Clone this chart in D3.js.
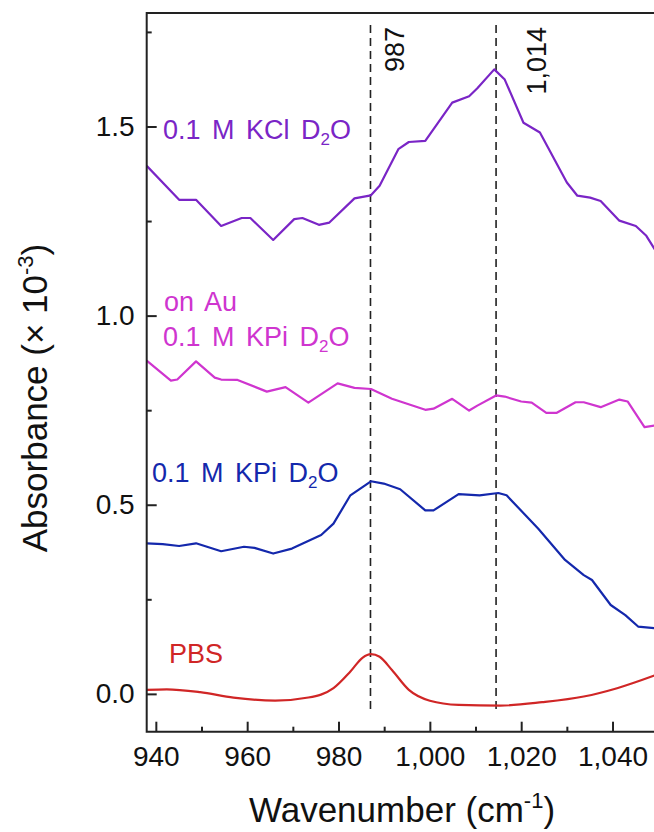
<!DOCTYPE html>
<html>
<head>
<meta charset="utf-8">
<script src="https://cdn.jsdelivr.net/npm/d3@7/dist/d3.min.js"></script>
<style>
  html, body { margin: 0; padding: 0; background: #fff; }
  svg { display: block; font-family: "Liberation Sans", Arial, sans-serif; }
</style>
</head>
<body>
<svg id="chart" width="654" height="832"></svg>
<script>
// ---- data ----
const kclWn = [938, 945.1, 948.8, 954.3, 958.8, 960.7, 965.7, 970.3, 972.1, 975.7, 978, 983.5, 987.1, 989, 993.1, 995.4, 999, 1004.9, 1008.6, 1010.4, 1014.1, 1016.4, 1020.5, 1024.1, 1030, 1032.3, 1035.1, 1037.4, 1041.5, 1045.1, 1047.4, 1049.5];
const kclAbs = [1.396, 1.306, 1.306, 1.237, 1.258, 1.258, 1.200, 1.255, 1.258, 1.240, 1.246, 1.310, 1.318, 1.343, 1.440, 1.459, 1.462, 1.563, 1.580, 1.601, 1.651, 1.624, 1.510, 1.484, 1.352, 1.317, 1.312, 1.303, 1.251, 1.237, 1.211, 1.170];

const auWn = [938, 943.3, 944.7, 948.8, 952.9, 954.3, 957.9, 964.3, 968.4, 973.4, 979.8, 983.5, 987.1, 991.7, 999, 1000.8, 1004.9, 1008.6, 1010.4, 1014.5, 1016.4, 1020, 1022.3, 1025.5, 1027.8, 1031.9, 1033.7, 1037.4, 1041.5, 1043.3, 1047, 1049.5];
const auAbs = [0.881, 0.828, 0.831, 0.879, 0.836, 0.831, 0.830, 0.799, 0.811, 0.770, 0.821, 0.809, 0.806, 0.780, 0.751, 0.754, 0.780, 0.749, 0.762, 0.789, 0.786, 0.773, 0.770, 0.743, 0.743, 0.771, 0.771, 0.758, 0.778, 0.773, 0.705, 0.710];

const kpiWn = [938, 941.5, 945.1, 948.8, 954.3, 959.3, 961.6, 965.7, 969.8, 976.2, 978.9, 982.6, 987.1, 989.9, 993.5, 999, 1000.8, 1006.3, 1010.9, 1015, 1016.8, 1023.7, 1029.6, 1033.7, 1035.5, 1039.6, 1042.8, 1045.6, 1049.5];
const kpiAbs = [0.398, 0.396, 0.391, 0.398, 0.377, 0.389, 0.386, 0.371, 0.384, 0.420, 0.450, 0.525, 0.562, 0.556, 0.541, 0.485, 0.485, 0.528, 0.525, 0.531, 0.525, 0.437, 0.354, 0.314, 0.301, 0.235, 0.208, 0.178, 0.173];

const pbsWn = [938, 942.4, 949.7, 957, 966.1, 973.4, 978.9, 982.6, 985.3, 987.1, 989, 991.7, 995.4, 1000, 1006.3, 1015.4, 1024.6, 1033.7, 1041, 1049.5];
const pbsAbs = [0.0106, 0.012, 0.0045, -0.0097, -0.018, -0.0097, 0.015, 0.059, 0.096, 0.105, 0.098, 0.063, 0.0106, -0.018, -0.029, -0.031, -0.022, -0.007, 0.015, 0.050];

const markerLines = [987, 1014.5];
const markerLabels = ["987", "1,014"];

const xMajorTicks = [940, 960, 980, 1000, 1020, 1040];
const xMinorTicks = [950, 970, 990, 1010, 1030];
const yMajorTicks = [0, 0.5, 1.0, 1.5];
const yMinorTicks = [0.25, 0.75, 1.25, 1.75];

// ---- layout ----
const svg = d3.select("#chart");
const L = 146.7, R = 658.2, T = 13, B = 731.7;
const x = d3.scaleLinear().domain([938, 1050]).range([L, R]);
const y = d3.scaleLinear().domain([-0.1, 1.8]).range([B, T]);

const colors = { kcl: "#7a25c6", au: "#cf35cf", kpi: "#1428ac", pbs: "#d02626" };

svg.append("defs").append("clipPath").attr("id", "clip")
  .append("rect").attr("x", L).attr("y", T).attr("width", R - L).attr("height", B - T);

// dashed marker lines
svg.selectAll("line.marker").data(markerLines).enter().append("line")
  .attr("class", "marker")
  .attr("x1", d => x(d)).attr("x2", d => x(d))
  .attr("y1", 25).attr("y2", 713)
  .attr("stroke", "#222").attr("stroke-width", 1.6)
  .attr("stroke-dasharray", "8,5");

// curves
const series = [
  { wn: kclWn, v: kclAbs, c: colors.kcl, curve: d3.curveLinear },
  { wn: auWn, v: auAbs, c: colors.au, curve: d3.curveLinear },
  { wn: kpiWn, v: kpiAbs, c: colors.kpi, curve: d3.curveLinear },
  { wn: pbsWn, v: pbsAbs, c: colors.pbs, curve: d3.curveMonotoneX }
];
const g = svg.append("g").attr("clip-path", "url(#clip)");
series.forEach(s => {
  const pts = s.wn.map((w, i) => [w, s.v[i]]);
  g.append("path").datum(pts)
    .attr("fill", "none").attr("stroke", s.c).attr("stroke-width", 2.2)
    .attr("stroke-linejoin", "round")
    .attr("d", d3.line().x(d => x(d[0])).y(d => y(d[1])).curve(s.curve));
});

// frame
svg.append("path")
  .attr("d", `M${R},${T}H${L}V${B}H${R}`)
  .attr("fill", "none").attr("stroke", "#222").attr("stroke-width", 2);

// axes ticks (inward)
const xAxis = d3.axisBottom(x).tickValues(xMajorTicks).tickSize(-10).tickPadding(14)
  .tickFormat(d3.format(","));
const gx = svg.append("g").attr("transform", `translate(0,${B})`).call(xAxis);
gx.select(".domain").remove();
gx.selectAll("line").attr("stroke", "#222").attr("stroke-width", 2);
gx.selectAll("text").attr("font-size", 28).attr("fill", "#111")
  .attr("font-family", "Liberation Sans, Arial, sans-serif");

const xAxisMinor = d3.axisBottom(x).tickValues(xMinorTicks).tickSize(-5).tickFormat("");
const gxm = svg.append("g").attr("transform", `translate(0,${B})`).call(xAxisMinor);
gxm.select(".domain").remove();
gxm.selectAll("line").attr("stroke", "#222").attr("stroke-width", 2);

const yAxis = d3.axisLeft(y).tickValues(yMajorTicks).tickSize(-10).tickPadding(12)
  .tickFormat(d3.format(".1f"));
const gy = svg.append("g").attr("transform", `translate(${L},0)`).call(yAxis);
gy.select(".domain").remove();
gy.selectAll("line").attr("stroke", "#222").attr("stroke-width", 2);
gy.selectAll("text").attr("font-size", 28).attr("fill", "#111")
  .attr("font-family", "Liberation Sans, Arial, sans-serif");

const yAxisMinor = d3.axisLeft(y).tickValues(yMinorTicks).tickSize(-5).tickFormat("");
const gym = svg.append("g").attr("transform", `translate(${L},0)`).call(yAxisMinor);
gym.select(".domain").remove();
gym.selectAll("line").attr("stroke", "#222").attr("stroke-width", 2);

// marker labels
const markerOffsets = [34, 50];
svg.selectAll("text.mlabel").data(markerLines).enter().append("text")
  .attr("class", "mlabel")
  .attr("transform", (d, i) => `translate(${x(d) + markerOffsets[i]},27) rotate(-90)`)
  .attr("text-anchor", "end")
  .attr("font-size", 27).attr("fill", "#111")
  .text((d, i) => markerLabels[i]);

// series labels
function label(xp, yp, color, parts) {
  const t = svg.append("text").attr("x", xp).attr("y", yp)
    .attr("fill", color).attr("font-size", 27).attr("word-spacing", 4);
  parts.forEach(p => {
    if (p.sub) {
      t.append("tspan").attr("font-size", 17).attr("dy", 6).text(p.t);
    } else if (p.after) {
      t.append("tspan").attr("dy", -6).text(p.t);
    } else {
      t.append("tspan").text(p.t);
    }
  });
  return t;
}
label(163, 139, colors.kcl, [{ t: "0.1 M KCl D" }, { t: "2", sub: true }, { t: "O", after: true }]);
label(164, 311, colors.au, [{ t: "on Au" }]);
label(163, 346, colors.au, [{ t: "0.1 M KPi D" }, { t: "2", sub: true }, { t: "O", after: true }]);
label(152, 482, colors.kpi, [{ t: "0.1 M KPi D" }, { t: "2", sub: true }, { t: "O", after: true }]);
label(169, 663, colors.pbs, [{ t: "PBS" }]);

// axis titles
const xt = svg.append("text").attr("x", 402).attr("y", 822)
  .attr("text-anchor", "middle").attr("font-size", 35).attr("fill", "#111");
xt.append("tspan").text("Wavenumber (cm");
xt.append("tspan").attr("font-size", 22).attr("dy", -14).text("-1");
xt.append("tspan").attr("dy", 14).text(")");

const yt = svg.append("text").attr("transform", "translate(47,398) rotate(-90)")
  .attr("text-anchor", "middle").attr("font-size", 35).attr("fill", "#111");
yt.append("tspan").text("Absorbance (\u00d7 10");
yt.append("tspan").attr("font-size", 22).attr("dy", -14).text("-3");
yt.append("tspan").attr("dy", 14).text(")");
</script>
</body>
</html>
